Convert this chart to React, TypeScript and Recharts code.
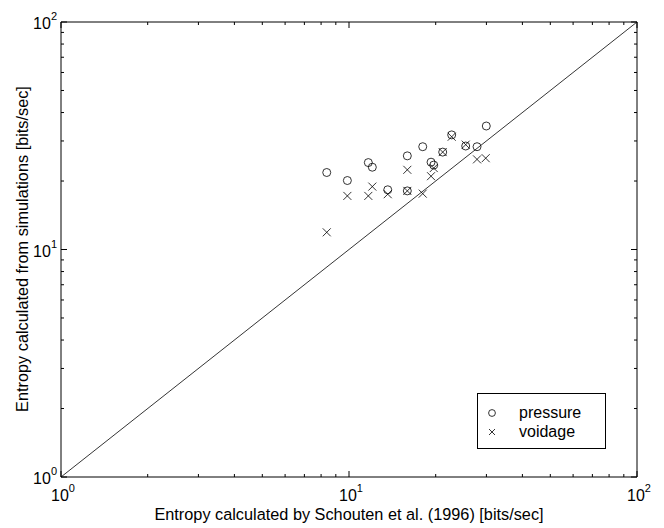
import React from 'react';
import { ScatterChart, Scatter, XAxis, YAxis, ReferenceLine, Legend, Label } from 'recharts';

// values (log-log, bits/sec)
const pressureX = [8.37, 9.87, 11.67, 12.05, 13.63, 15.94, 15.94, 18.03, 19.27, 19.69, 21.15, 22.73, 25.42, 27.83, 29.97];
const pressureY = [21.8, 20.1, 24.1, 23.0, 18.3, 25.8, 18.1, 28.3, 24.2, 23.5, 26.8, 31.9, 28.5, 28.3, 34.9];
const voidageX = [8.37, 9.87, 11.67, 12.05, 13.63, 15.94, 15.94, 18.03, 19.27, 19.69, 21.15, 22.73, 25.42, 27.83, 29.83];
const voidageY = [11.9, 17.2, 17.2, 18.9, 17.5, 22.4, 18.1, 17.6, 21.0, 22.8, 26.8, 31.3, 28.9, 24.9, 25.2];
const logTicks = [1, 2, 3, 4, 5, 6, 7, 8, 9, 10, 20, 30, 40, 50, 60, 70, 80, 90, 100];

const FONT = '"Liberation Sans", Arial, Helvetica, sans-serif';

const pressure = pressureX.map((x, i) => ({ x, y: pressureY[i] }));
const voidage = voidageX.map((x, i) => ({ x, y: voidageY[i] }));

const Circle = (props: any) => (
  <circle cx={props.cx} cy={props.cy} r={4} fill="none" stroke="#000" strokeWidth={0.8} />
);

const Cross = (props: any) => {
  const { cx, cy } = props;
  const s = 4;
  return (
    <path d={`M${cx - s},${cy - s}L${cx + s},${cy + s}M${cx - s},${cy + s}L${cx + s},${cy - s}`} stroke="#000" strokeWidth={0.8} fill="none" />
  );
};

// inward MATLAB-style ticks, label only on the decades
const LogTick = (props: any) => {
  const { x, y, payload, side } = props;
  const v = payload.value;
  const e = Math.round(Math.log10(v));
  const major = Math.abs(Math.log10(v) - e) < 1e-6;
  const len = major ? 6 : 3;
  let line = null;
  let label = null;
  if (side === 'bottom') {
    line = <line x1={x} y1={y} x2={x} y2={y - len} stroke="#000" />;
    if (major)
      label = (
        <text x={x + 2} y={y + 24} textAnchor="middle" fontFamily={FONT} fontSize={16} fill="#000">
          10<tspan dy={-9} fontSize={11}>{e}</tspan>
        </text>
      );
  } else if (side === 'top') {
    line = <line x1={x} y1={y} x2={x} y2={y + len} stroke="#000" />;
  } else if (side === 'left') {
    line = <line x1={x} y1={y} x2={x + len} y2={y} stroke="#000" />;
    if (major)
      label = (
        <text x={x - 4} y={y + 7} textAnchor="end" fontFamily={FONT} fontSize={16} fill="#000">
          10<tspan dy={-9} fontSize={11}>{e}</tspan>
        </text>
      );
  } else {
    line = <line x1={x} y1={y} x2={x - len} y2={y} stroke="#000" />;
  }
  return (
    <g>
      {line}
      {label}
    </g>
  );
};

const LegendBox = () => (
  <div style={{ boxSizing: 'border-box', width: 129, height: 56, border: '1px solid #000', background: '#fff' }}>
    <svg width={127} height={54} style={{ display: 'block' }}>
      <circle cx={14} cy={19} r={3.4} fill="none" stroke="#000" strokeWidth={0.8} />
      <text x={41} y={24} fontFamily={FONT} fontSize={16} fill="#000">pressure</text>
      <path d="M11,35L17,41M11,41L17,35" stroke="#000" strokeWidth={0.8} />
      <text x={41} y={43} fontFamily={FONT} fontSize={16} fill="#000">voidage</text>
    </svg>
  </div>
);

const App = () => {
  return (
    <div style={{ position: 'absolute', left: 0, top: 0, background: '#fff' }}>
      <ScatterChart width={664} height={528} margin={{ top: 21, right: 26, bottom: 50, left: 60 }}>
        <XAxis
          dataKey="x"
          type="number"
          scale="log"
          domain={[1, 100]}
          allowDataOverflow
          ticks={logTicks}
          interval={0}
          height={1}
          tickSize={0}
          tickMargin={0}
          axisLine={{ stroke: '#000', strokeWidth: 1 }}
          tick={<LogTick side="bottom" />}
        >
          <Label
            content={() => (
              <text x={349} y={520} textAnchor="middle" fontFamily={FONT} fontSize={16.3} fill="#000">
                Entropy calculated by Schouten et al. (1996) [bits/sec]
              </text>
            )}
          />
        </XAxis>
        <XAxis
          xAxisId="top"
          orientation="top"
          dataKey="x"
          type="number"
          scale="log"
          domain={[1, 100]}
          allowDataOverflow
          ticks={logTicks}
          interval={0}
          height={1}
          tickSize={0}
          tickMargin={0}
          axisLine={{ stroke: '#000', strokeWidth: 1 }}
          tick={<LogTick side="top" />}
        />
        <YAxis
          dataKey="y"
          type="number"
          scale="log"
          domain={[1, 100]}
          allowDataOverflow
          ticks={logTicks}
          interval={0}
          width={1}
          tickSize={0}
          tickMargin={0}
          axisLine={{ stroke: '#000', strokeWidth: 1 }}
          tick={<LogTick side="left" />}
        >
          <Label
            content={() => (
              <text
                x={28}
                y={249}
                textAnchor="middle"
                transform="rotate(-90 28 249)"
                fontFamily={FONT}
                fontSize={16.3}
                fill="#000"
              >
                Entropy calculated from simulations [bits/sec]
              </text>
            )}
          />
        </YAxis>
        <YAxis
          yAxisId="right"
          orientation="right"
          dataKey="y"
          type="number"
          scale="log"
          domain={[1, 100]}
          allowDataOverflow
          ticks={logTicks}
          interval={0}
          width={1}
          tickSize={0}
          tickMargin={0}
          axisLine={{ stroke: '#000', strokeWidth: 1 }}
          tick={<LogTick side="right" />}
        />
        <ReferenceLine
          segment={[{ x: 1, y: 1 }, { x: 100, y: 100 }]}
          stroke="#000"
          strokeWidth={0.8}
          ifOverflow="visible"
        />
        <Scatter name="pressure" data={pressure} shape={<Circle />} isAnimationActive={false} />
        <Scatter name="voidage" data={voidage} shape={<Cross />} isAnimationActive={false} />
        <Legend
          layout="vertical"
          align="center"
          verticalAlign="middle"
          wrapperStyle={{ left: 477, top: 393, width: 129, height: 56 }}
          content={() => <LegendBox />}
        />
      </ScatterChart>
    </div>
  );
};

export default App;
